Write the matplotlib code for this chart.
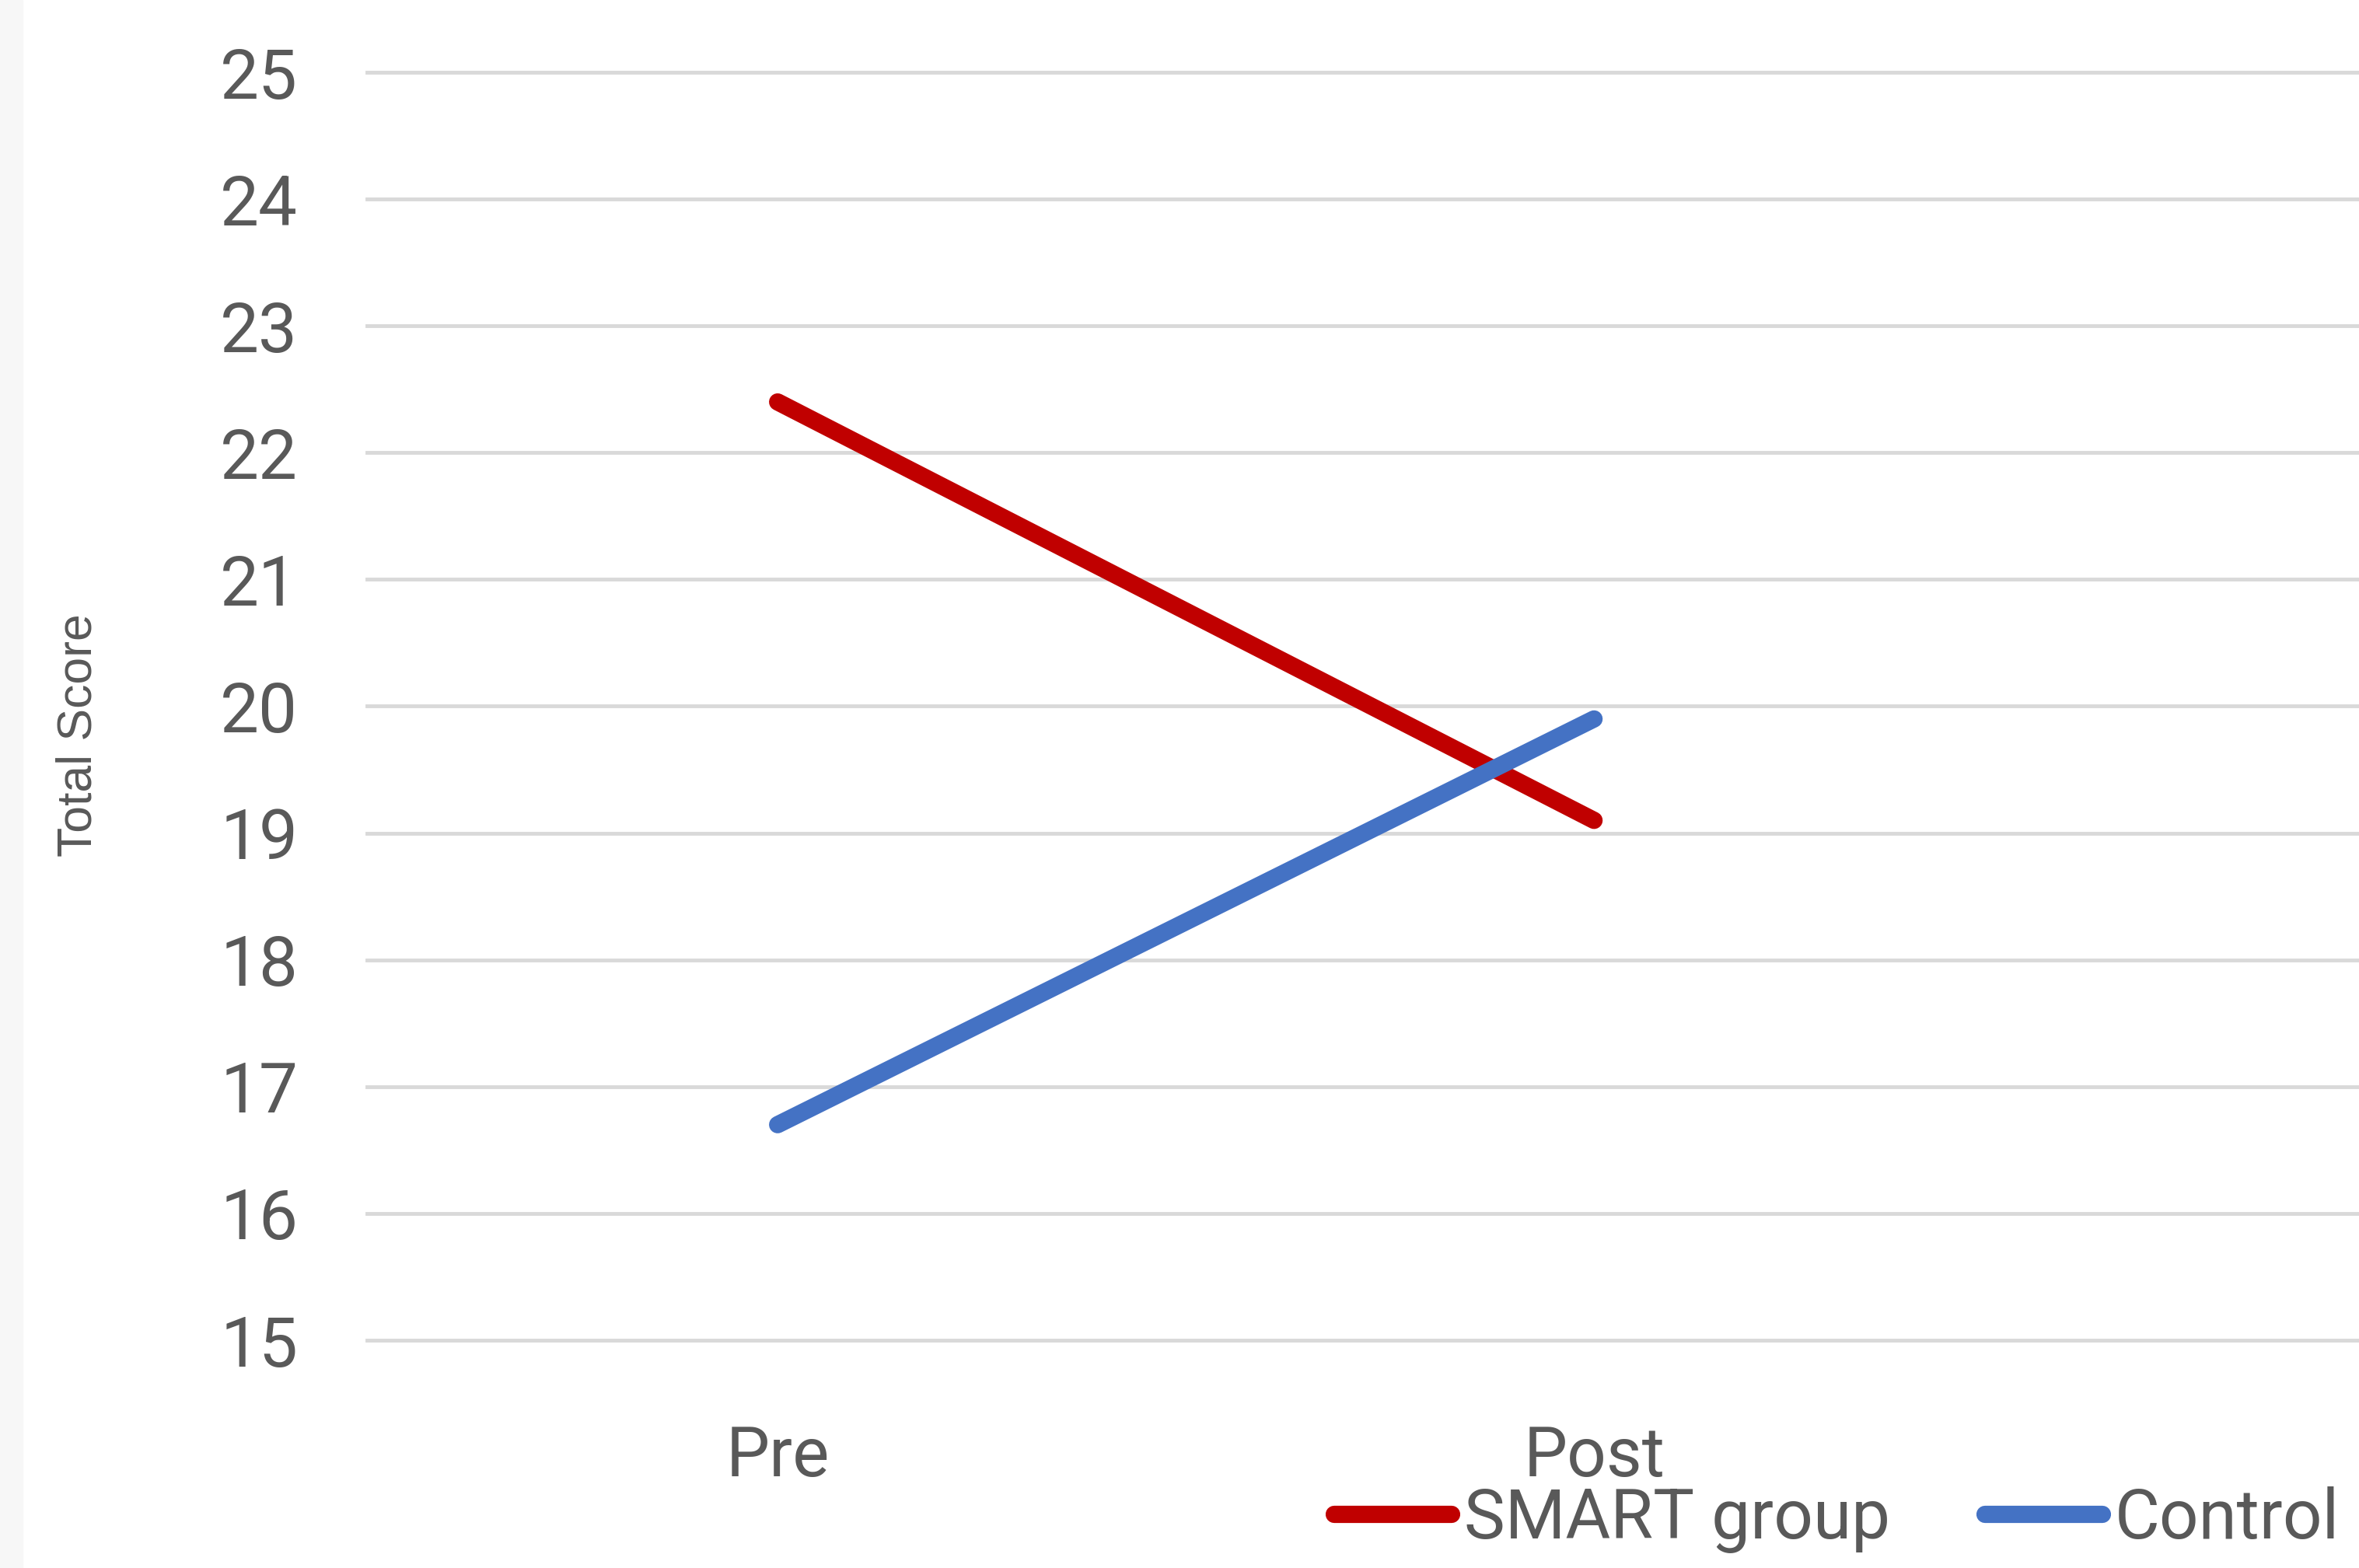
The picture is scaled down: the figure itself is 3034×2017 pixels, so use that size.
import matplotlib.pyplot as plt

# data
categories = ['Pre', 'Post']
smart_group = [22.4, 19.1]
control = [16.7, 19.9]
y_ticks = [15, 16, 17, 18, 19, 20, 21, 22, 23, 24, 25]

W, H = 3034, 2017
text_color = '#595959'
font = 'Roboto'
fsize = 64

fig = plt.figure(figsize=(W / 100, H / 100), dpi=100)
fig.patch.set_facecolor('white')

# faint grey strip on the far left
fig.patches.append(plt.Rectangle((0, 0), 29 / W, 1, transform=fig.transFigure,
                                 color='#f7f7f7', zorder=0))

ax = fig.add_axes([472 / W, 1 - 1724 / H, 1 - 472 / W, (1724 - 93) / H])

x = list(range(len(categories)))
ax.plot(x, smart_group, color='#c00000', lw=16, solid_capstyle='round',
        label='SMART group', clip_on=False, zorder=3)
ax.plot(x, control, color='#4472c4', lw=16, solid_capstyle='round',
        label='Control', clip_on=False, zorder=3)

ax.set_xlim(-0.503, 1.937)
ax.set_ylim(15, 25)
ax.set_yticks(y_ticks)
ax.set_xticks(x)
ax.set_xticklabels(categories)

ax.grid(axis='y', color='#d9d9d9', lw=3.5)
for gl in ax.get_ygridlines():
    gl.set_clip_on(False)
ax.set_axisbelow(True)

for s in ax.spines.values():
    s.set_visible(False)

ax.tick_params(axis='y', length=0, pad=64, labelsize=fsize, labelcolor=text_color)
ax.tick_params(axis='x', length=0, pad=78, labelsize=fsize, labelcolor=text_color)
for lab in ax.get_xticklabels() + ax.get_yticklabels():
    lab.set_family(font)

ax.set_ylabel('Total Score', fontsize=45, color=text_color, family='Liberation Sans')
ax.yaxis.set_label_coords((130 - 472) / (W - 472), (1724 - 946) / 1631)

fig.legend(loc='upper left', bbox_to_anchor=(1716 / W, 1 - 1912 / H), ncol=2,
           frameon=False, borderpad=0, borderaxespad=0,
           handlelength=1.70, handletextpad=0.18, columnspacing=1.37,
           prop={'family': font, 'size': fsize}, labelcolor=text_color)

fig.savefig('out.png', dpi=100)
